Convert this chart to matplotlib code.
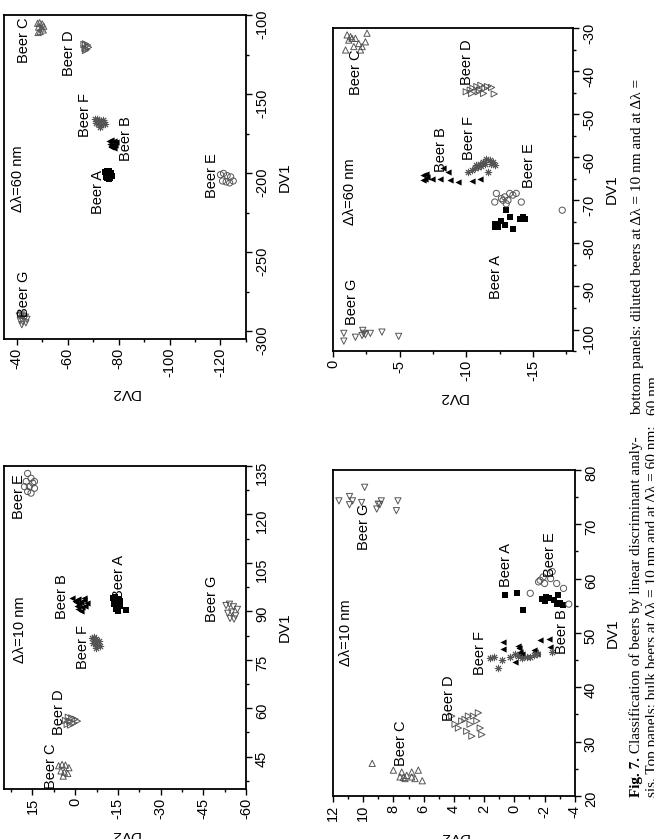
import matplotlib
matplotlib.use('Agg')
import matplotlib.pyplot as plt
from matplotlib.ticker import MultipleLocator, AutoMinorLocator

plt.rcParams['font.family'] = ['Liberation Sans', 'DejaVu Sans']
plt.rcParams['axes.unicode_minus'] = False

# ---- bulk beers, delta lambda = 60 nm (DV2, DV1) ----
bulk60_A_dv2 = [-74.6, -75.4, -76.3, -77.2, -75.0, -76.0, -77.0, -75.6, -76.6, -74.9, -77.6, -76.1]
bulk60_A_dv1 = [-199.2, -198.6, -199.0, -199.8, -201.0, -201.2, -201.4, -202.8, -203.2, -202.6, -201.9, -204.0]
bulk60_B_dv2 = [-76.2, -77.0, -78.0, -78.8, -76.6, -77.6, -78.5, -77.2, -78.1, -76.9]
bulk60_B_dv1 = [-179.8, -179.2, -179.6, -180.6, -181.8, -182.0, -182.4, -183.8, -184.2, -183.0]
bulk60_C_dv2 = [-48.2, -49.0, -50.0, -50.6, -48.6, -49.6, -50.4, -49.2, -48.4]
bulk60_C_dv1 = [-105.2, -104.8, -105.6, -107.0, -107.6, -108.2, -109.4, -110.4, -111.0]
bulk60_D_dv2 = [-66.4, -67.0, -67.8, -68.2, -66.8, -67.5, -67.0]
bulk60_D_dv1 = [-118.6, -118.2, -119.0, -120.4, -121.0, -121.6, -122.4]
bulk60_E_dv2 = [-120.0, -121.2, -122.6, -124.0, -120.8, -122.2, -123.6, -125.0]
bulk60_E_dv1 = [-201.0, -200.2, -201.6, -202.4, -205.0, -205.6, -206.2, -205.0]
bulk60_F_dv2 = [-70.6, -71.4, -72.2, -73.0, -73.8, -74.4, -71.0, -72.0, -73.2, -74.6, -72.6, -71.8]
bulk60_F_dv1 = [-166.0, -165.8, -166.4, -167.0, -166.2, -167.4, -168.6, -169.2, -169.6, -169.0, -170.6, -167.8]
bulk60_G_dv2 = [-41.0, -41.8, -42.6, -43.4, -44.0, -41.4, -42.4, -43.6, -42.0]
bulk60_G_dv1 = [-290.4, -289.8, -290.6, -291.2, -292.6, -293.4, -294.0, -294.8, -296.0]

# ---- bulk beers, delta lambda = 10 nm ----
bulk10_A_dv2 = [-13.2, -14.0, -15.0, -15.8, -13.6, -14.6, -15.6, -14.2, -15.2, -17.8]
bulk10_A_dv1 = [94.0, 94.4, 93.8, 93.2, 92.2, 92.0, 91.8, 90.6, 90.2, 90.4]
bulk10_B_dv2 = [1.0, 0.0, -1.0, -2.0, -3.0, -4.0, -0.5, -1.5, -2.5, -3.5, -1.0, -2.2, -0.2, -3.2]
bulk10_B_dv1 = [94.2, 93.2, 93.8, 92.8, 93.6, 92.6, 91.8, 92.2, 91.4, 91.6, 90.6, 90.2, 92.8, 94.0]
bulk10_C_dv2 = [5.8, 4.6, 3.4, 2.2, 5.0, 3.8, 2.6, 4.2]
bulk10_C_dv1 = [42.2, 42.6, 42.4, 41.6, 40.6, 40.2, 39.8, 39.0]
bulk10_D_dv2 = [3.4, 2.4, 1.2, 0.0, -0.8, 2.8, 1.6, 0.4, 2.0]
bulk10_D_dv1 = [56.2, 57.2, 57.0, 56.6, 56.0, 55.0, 54.8, 55.4, 56.0]
bulk10_E_dv2 = [16.7, 15.5, 17.2, 14.9, 16.1, 14.3, 16.7, 15.5, 14.3, 17.8]
bulk10_E_dv1 = [132.7, 131.2, 130.2, 129.7, 128.6, 128.1, 127.1, 126.6, 130.2, 128.6]
bulk10_F_dv2 = [-5.8, -6.6, -7.4, -8.2, -6.2, -7.0, -7.8, -8.6, -7.2]
bulk10_F_dv1 = [81.8, 82.0, 81.4, 80.8, 80.2, 80.0, 79.6, 79.2, 78.8]
bulk10_G_dv2 = [-53.0, -54.2, -55.6, -57.0, -53.6, -55.0, -56.4, -54.4, -55.8]
bulk10_G_dv1 = [91.8, 92.2, 91.4, 90.6, 89.4, 89.8, 88.6, 87.8, 87.6]

# ---- diluted beers, delta lambda = 60 nm ----
dil60_A_dv2 = [-12.14, -12.39, -12.26, -12.64, -12.89, -13.0, -13.26, -13.5, -14.0, -14.25, -14.38, -12.14]
dil60_A_dv1 = [-75.4, -76.2, -75.8, -74.7, -75.8, -72.3, -73.9, -76.6, -74.3, -73.9, -74.3, -76.2]
dil60_B_dv2 = [-6.79, -6.92, -7.04, -7.41, -8.04, -8.78, -9.40, -10.4, -11.0, -8.28, -8.66, -6.74, -6.99]
dil60_B_dv1 = [-64.2, -65.0, -64.7, -65.0, -65.0, -65.2, -65.7, -65.5, -65.0, -62.6, -63.4, -65.2, -63.8]
dil60_C_dv2 = [-1.07, -1.44, -1.19, -0.95, -1.57, -1.94, -2.19, -2.44, -2.56, -1.69, -1.32, -2.07]
dil60_C_dv1 = [-31.6, -32.4, -32.8, -35.1, -34.3, -33.6, -34.3, -33.2, -31.2, -32.4, -32.0, -35.1]
dil60_D_dv2 = [-10.0, -10.3, -10.5, -10.8, -11.0, -11.1, -11.4, -11.6, -11.9, -12.1, -10.4, -10.9, -11.3]
dil60_D_dv1 = [-44.8, -44.4, -44.0, -43.6, -44.4, -43.3, -44.0, -43.6, -43.8, -45.3, -45.2, -44.8, -45.2]
dil60_E_dv2 = [-12.14, -12.26, -12.64, -12.76, -13.0, -13.26, -13.5, -13.75, -14.13, -12.89, -13.13, -17.2]
dil60_E_dv1 = [-70.4, -68.4, -69.6, -70.0, -70.8, -68.4, -68.8, -68.4, -70.4, -69.2, -70.0, -72.3]
dil60_F_dv2 = [-10.15, -10.40, -10.65, -10.90, -11.02, -11.27, -11.52, -11.77, -12.01, -12.14, -11.89, -11.64, -10.77, -11.39, -11.14]
dil60_F_dv1 = [-63.4, -63.0, -62.6, -62.3, -61.5, -61.1, -60.3, -60.7, -61.1, -61.9, -61.5, -63.4, -61.9, -61.5, -62.1]
dil60_G_dv2 = [-0.82, -0.82, -1.69, -2.24, -2.31, -2.19, -2.44, -2.81, -3.68, -4.93]
dil60_G_dv1 = [-100.9, -102.7, -101.8, -100.2, -100.9, -101.4, -101.2, -100.9, -100.6, -101.6]

# ---- diluted beers, delta lambda = 10 nm ----
dil10_A_dv2 = [0.6, -0.2, -0.6, -1.8, -2.0, -2.3, -2.6, -2.8, -3.0, -2.1, -2.9, -3.2]
dil10_A_dv1 = [57.0, 57.4, 54.3, 56.2, 55.8, 56.4, 56.0, 55.4, 55.6, 56.6, 57.0, 55.2]
dil10_B_dv2 = [0.72, 0.72, -0.27, -0.32, -0.38, -0.23, -0.05, -1.27, -1.38, -1.49, -1.71, -2.26, -2.37, -0.38, -0.50]
dil10_B_dv1 = [48.4, 47.0, 47.6, 47.2, 46.5, 46.1, 44.7, 46.9, 46.5, 46.2, 48.7, 48.8, 47.5, 45.6, 46.2]
dil10_C_dv2 = [9.4, 8.0, 7.45, 7.56, 7.23, 6.79, 6.79, 6.35, 6.09, 7.12, 7.34, 6.57]
dil10_C_dv1 = [26.0, 24.75, 24.4, 23.5, 23.2, 24.4, 23.5, 24.75, 22.8, 23.8, 23.4, 23.2]
dil10_D_dv2 = [4.14, 3.92, 3.70, 3.48, 3.26, 3.15, 2.93, 2.71, 2.48, 2.26, 2.15, 2.38, 2.81, 3.04]
dil10_D_dv1 = [34.7, 33.2, 32.5, 33.8, 34.1, 31.9, 33.2, 34.7, 33.8, 32.5, 31.3, 35.3, 31.0, 34.7]
dil10_E_dv2 = [-1.05, -1.6, -1.7, -1.9, -2.0, -2.4, -2.5, -2.8, -3.25, -3.6]
dil10_E_dv1 = [57.3, 59.4, 59.7, 60.3, 59.1, 60.0, 61.3, 59.1, 58.2, 55.3]
dil10_F_dv2 = [1.60, 1.32, 1.05, 0.79, 0.28, -0.05, -0.23, -0.50, -0.83, -1.05, -1.27, -1.49, -2.48]
dil10_F_dv1 = [45.3, 45.5, 43.5, 45.0, 45.6, 46.2, 45.7, 45.3, 45.6, 45.6, 45.9, 46.1, 46.5]
dil10_G_dv2 = [11.6, 10.9, 10.7, 10.9, 9.9, 10.1, 9.1, 9.0, 8.8, 8.9, 7.7, 7.8]
dil10_G_dv1 = [74.3, 75.1, 74.3, 73.6, 76.8, 74.0, 72.8, 73.7, 74.3, 73.6, 74.3, 72.5]

beers = ['A', 'B', 'C', 'D', 'E', 'F', 'G']

# marker look of each beer as it appears on the turned page
styles = {
    'A': dict(marker='s', s=16, c='black', linewidths=0),
    'B': dict(marker='<', s=20, c='black', linewidths=0),
    'C': dict(marker='^', s=20, facecolors='none', edgecolors='#555555', linewidths=0.7),
    'D': dict(marker='>', s=20, facecolors='none', edgecolors='#555555', linewidths=0.7),
    'E': dict(marker='o', s=20, facecolors='none', edgecolors='#555555', linewidths=0.7),
    'F': dict(marker=(8, 2, 0), s=22, c='#555555', linewidths=0.7),
    'G': dict(marker='v', s=20, facecolors='none', edgecolors='#555555', linewidths=0.7),
}


def panel(ax, data, xlim, ylim, xstep, ystep, labels, note, note_pos):
    for b in beers:
        dv2, dv1 = data[b]
        ax.scatter(dv2, dv1, zorder=3, **styles[b])
    ax.set_xlim(*xlim)
    ax.set_ylim(*ylim)
    ax.xaxis.set_major_locator(MultipleLocator(xstep))
    ax.yaxis.set_major_locator(MultipleLocator(ystep))
    ax.xaxis.set_minor_locator(AutoMinorLocator(2))
    ax.yaxis.set_minor_locator(AutoMinorLocator(2))
    ax.yaxis.tick_right()
    ax.yaxis.set_label_position('right')
    ax.tick_params(which='both', direction='out', width=1, labelsize=10.5,
                   left=False, top=False, right=True, bottom=True)
    ax.tick_params(which='major', length=4.5)
    ax.tick_params(which='minor', length=2.5)
    ax.tick_params(axis='x', labelrotation=90, pad=2)
    ax.tick_params(axis='y', labelrotation=90, pad=2)
    for sp in ax.spines.values():
        sp.set_linewidth(1.3)
    ax.set_xlabel('DV2', rotation=180, fontsize=11, labelpad=6)
    ax.set_ylabel('DV1', rotation=90, fontsize=11, labelpad=6)
    for b, (fx, fy) in labels.items():
        ax.text(fx, fy, 'Beer ' + b, rotation=90, ha='center', va='center',
                fontsize=10.5, transform=ax.transAxes)
    ax.text(note_pos[0], note_pos[1], note, rotation=90, ha='center', va='center',
            fontsize=10.5, transform=ax.transAxes)


fig = plt.figure(figsize=(6.54, 8.39), dpi=100)
fig.patch.set_facecolor('white')

ax_tl = fig.add_axes([0.0061, 0.596, 0.370, 0.386])
ax_tr = fig.add_axes([0.509, 0.5816, 0.367, 0.385])
ax_bl = fig.add_axes([0.0061, 0.0596, 0.370, 0.385])
ax_br = fig.add_axes([0.509, 0.0513, 0.370, 0.3886])

panel(ax_tl,
      {'A': (bulk60_A_dv2, bulk60_A_dv1), 'B': (bulk60_B_dv2, bulk60_B_dv1),
       'C': (bulk60_C_dv2, bulk60_C_dv1), 'D': (bulk60_D_dv2, bulk60_D_dv1),
       'E': (bulk60_E_dv2, bulk60_E_dv1), 'F': (bulk60_F_dv2, bulk60_F_dv1),
       'G': (bulk60_G_dv2, bulk60_G_dv1)},
      (-35, -130), (-305, -100), 20, 50,
      {'C': (0.083, 0.923), 'D': (0.269, 0.883), 'F': (0.335, 0.691), 'B': (0.504, 0.620),
       'A': (0.388, 0.454), 'E': (0.860, 0.503), 'G': (0.083, 0.139)},
      'Δλ=60 nm', (0.058, 0.494))

panel(ax_tr,
      {'A': (dil60_A_dv2, dil60_A_dv1), 'B': (dil60_B_dv2, dil60_B_dv1),
       'C': (dil60_C_dv2, dil60_C_dv1), 'D': (dil60_D_dv2, dil60_D_dv1),
       'E': (dil60_E_dv2, dil60_E_dv1), 'F': (dil60_F_dv2, dil60_F_dv1),
       'G': (dil60_G_dv2, dil60_G_dv1)},
      (0, -18), (-105, -30), 5, 10,
      {'G': (0.079, 0.152), 'C': (0.096, 0.864), 'D': (0.558, 0.895), 'B': (0.45, 0.625),
       'F': (0.567, 0.659), 'E': (0.817, 0.573), 'A': (0.679, 0.229)},
      'Δλ=60 nm', (0.071, 0.492))

panel(ax_bl,
      {'A': (bulk10_A_dv2, bulk10_A_dv1), 'B': (bulk10_B_dv2, bulk10_B_dv1),
       'C': (bulk10_C_dv2, bulk10_C_dv1), 'D': (bulk10_D_dv2, bulk10_D_dv1),
       'E': (bulk10_E_dv2, bulk10_E_dv1), 'F': (bulk10_F_dv2, bulk10_F_dv1),
       'G': (bulk10_G_dv2, bulk10_G_dv1)},
      (25, -60), (35, 135), 15, 15,
      {'E': (0.062, 0.904), 'B': (0.24, 0.594), 'A': (0.475, 0.656), 'F': (0.326, 0.44),
       'D': (0.227, 0.238), 'C': (0.194, 0.071), 'G': (0.86, 0.588)},
      'Δλ=10 nm', (0.066, 0.492))

panel(ax_br,
      {'A': (dil10_A_dv2, dil10_A_dv1), 'B': (dil10_B_dv2, dil10_B_dv1),
       'C': (dil10_C_dv2, dil10_C_dv1), 'D': (dil10_D_dv2, dil10_D_dv1),
       'E': (dil10_E_dv2, dil10_E_dv1), 'F': (dil10_F_dv2, dil10_F_dv1),
       'G': (dil10_G_dv2, dil10_G_dv1)},
      (12, -4), (20, 80), 2, 10,
      {'G': (0.128, 0.825), 'C': (0.28, 0.163), 'D': (0.48, 0.30), 'F': (0.61, 0.439),
       'A': (0.715, 0.709), 'E': (0.897, 0.739), 'B': (0.946, 0.503)},
      'Δλ=10 nm', (0.054, 0.50))

fig.canvas.draw()
for ax in (ax_tl, ax_tr, ax_bl, ax_br):
    for lab in ax.get_xticklabels() + ax.get_yticklabels():
        lab.set_family(['Liberation Sans', 'DejaVu Sans'])

# caption of the page, cut by the right edge
renderer = fig.canvas.get_renderer()
cap_font = ['Liberation Serif', 'DejaVu Serif']


def caption_line(x, y, parts):
    for txt, weight in parts:
        t = fig.text(x, y, txt, rotation=90, ha='center', va='bottom', fontsize=11,
                     family=cap_font, fontweight=weight)
        bb = t.get_window_extent(renderer)
        y += bb.height / fig.bbox.height


caption_line(0.9725, 0.050, [('Fig. 7.', 'bold'),
                            (' Classification of beers by linear discriminant analy-', 'normal')])
caption_line(0.998, 0.050, [('sis. Top panels: bulk beers at Δλ = 10 nm and at Δλ = 60 nm;', 'normal')])
caption_line(0.9755, 0.505, [('bottom panels: diluted beers at Δλ = 10 nm and at Δλ =', 'normal')])
caption_line(0.9995, 0.505, [('60 nm.', 'normal')])

fig.savefig('out.png', dpi=100, facecolor='white')
